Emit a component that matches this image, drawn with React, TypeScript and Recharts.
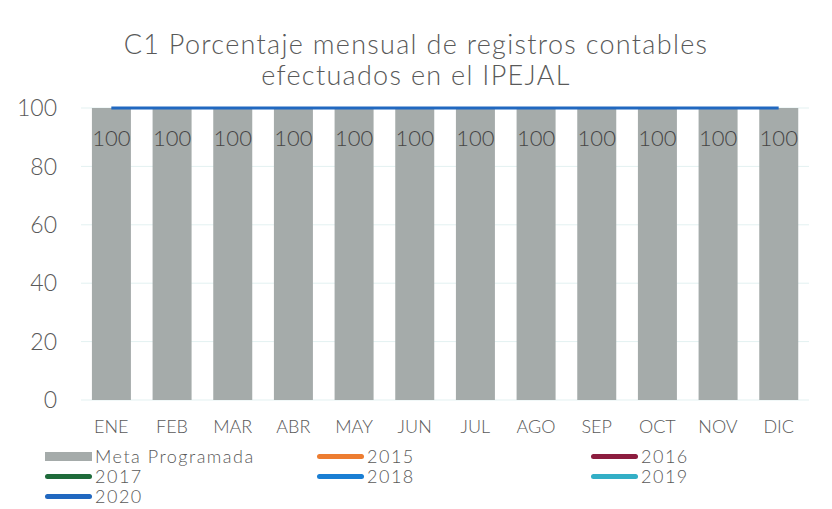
import React from "react";
import {
  ComposedChart,
  Bar,
  Line,
  XAxis,
  YAxis,
  CartesianGrid,
  LabelList,
} from "recharts";

// --- datos ---
const meses = ["ENE", "FEB", "MAR", "ABR", "MAY", "JUN", "JUL", "AGO", "SEP", "OCT", "NOV", "DIC"];
const metaProgramada = [100, 100, 100, 100, 100, 100, 100, 100, 100, 100, 100, 100];
const serie2015: (number | null)[] = [null, null, null, null, null, null, null, null, null, null, null, null];
const serie2016: (number | null)[] = [null, null, null, null, null, null, null, null, null, null, null, null];
const serie2017: (number | null)[] = [null, null, null, null, null, null, null, null, null, null, null, null];
const serie2018: (number | null)[] = [null, null, null, null, null, null, null, null, null, null, null, null];
const serie2019: (number | null)[] = [null, null, null, null, null, null, null, null, null, null, null, null];
const serie2020 = [100, 100, 100, 100, 100, 100, 100, 100, 100, 100, 100, 100];
const yTicks = [0, 20, 40, 60, 80, 100];

const FONT = "Lato, 'DejaVu Sans', sans-serif";
const TEXT = "#595959";

const data = meses.map((mes, i) => ({
  mes,
  meta: metaProgramada[i],
  y2015: serie2015[i],
  y2016: serie2016[i],
  y2017: serie2017[i],
  y2018: serie2018[i],
  y2019: serie2019[i],
  y2020: serie2020[i],
}));

// series de línea: clave, nombre, color
const lineas = [
  { key: "y2015", name: "2015", color: "#ed7d31" },
  { key: "y2016", name: "2016", color: "#8c1d3f" },
  { key: "y2017", name: "2017", color: "#1f6b3b" },
  { key: "y2018", name: "2018", color: "#1a7fd4" },
  { key: "y2019", name: "2019", color: "#33afc6" },
  { key: "y2020", name: "2020", color: "#2168c0" },
];
const BAR_COLOR = "#a5abaa";

const legendItems = [{ key: "meta", name: "Meta Programada", color: BAR_COLOR }, ...lineas];
const colX = [45, 317, 591];

const Leyenda = () => (
  <div style={{ position: "absolute", left: 0, top: 447, width: 832, height: 62, fontFamily: FONT }}>
    {legendItems.map((it, i) => {
      const col = i % 3;
      const row = Math.floor(i / 3);
      const isBar = it.key === "meta";
      return (
        <div
          key={it.key}
          style={{
            position: "absolute",
            left: colX[col],
            top: row * 20,
            height: 19,
            display: "flex",
            alignItems: "center",
          }}
        >
          <span
            style={{
              display: "inline-block",
              width: 47,
              height: isBar ? 9 : 5,
              borderRadius: isBar ? 0 : 3,
              background: it.color,
              marginRight: 3,
            }}
          />
          <span style={{ fontSize: 18, color: TEXT, fontWeight: 300, lineHeight: "19px", letterSpacing: 1.5 }}>
            {it.name}
          </span>
        </div>
      );
    })}
  </div>
);

export default function App() {
  return (
    <div style={{ position: "absolute", left: 0, top: 0, width: 832, height: 509, background: "#fff" }}>
      <div
        style={{
          position: "absolute",
          top: 28,
          left: 0,
          width: 832,
          textAlign: "center",
          fontFamily: FONT,
          fontWeight: 300,
          fontSize: 27,
          lineHeight: "31px",
          color: TEXT,
          letterSpacing: 1.3,
        }}
      >
        C1 Porcentaje mensual de registros contables
        <br />
        efectuados en el IPEJAL
      </div>
      <ComposedChart
        width={832}
        height={509}
        data={data}
        margin={{ top: 108, right: 23, left: 0, bottom: 79 }}
        barCategoryGap="18%"
        style={{ position: "absolute", left: 0, top: 0 }}
      >
        <CartesianGrid vertical={false} stroke="#e3f1f1" />
        <XAxis
          dataKey="mes"
          axisLine={false}
          tickLine={false}
          height={30}
          tickMargin={14}
          interval={0}
          tick={{ fill: TEXT, fontSize: 18, fontFamily: FONT, fontWeight: 300 }}
        />
        <YAxis
          domain={[0, 100]}
          ticks={yTicks}
          width={81}
          axisLine={false}
          tickLine={false}
          tickMargin={18}
          tick={{ fill: TEXT, fontSize: 23, fontFamily: FONT, fontWeight: 300 }}
        />
        <Bar dataKey="meta" name="Meta Programada" fill={BAR_COLOR} isAnimationActive={false}>
          <LabelList
            dataKey="meta"
            position="insideTop"
            offset={22}
            fill="#454545"
            style={{ fontSize: 22, fontFamily: FONT, fontWeight: 300 }}
          />
        </Bar>
        {lineas.map((l) => (
          <Line
            key={l.key}
            dataKey={l.key}
            name={l.name}
            stroke={l.color}
            strokeWidth={3}
            dot={false}
            isAnimationActive={false}
          />
        ))}
      </ComposedChart>
      <Leyenda />
    </div>
  );
}
